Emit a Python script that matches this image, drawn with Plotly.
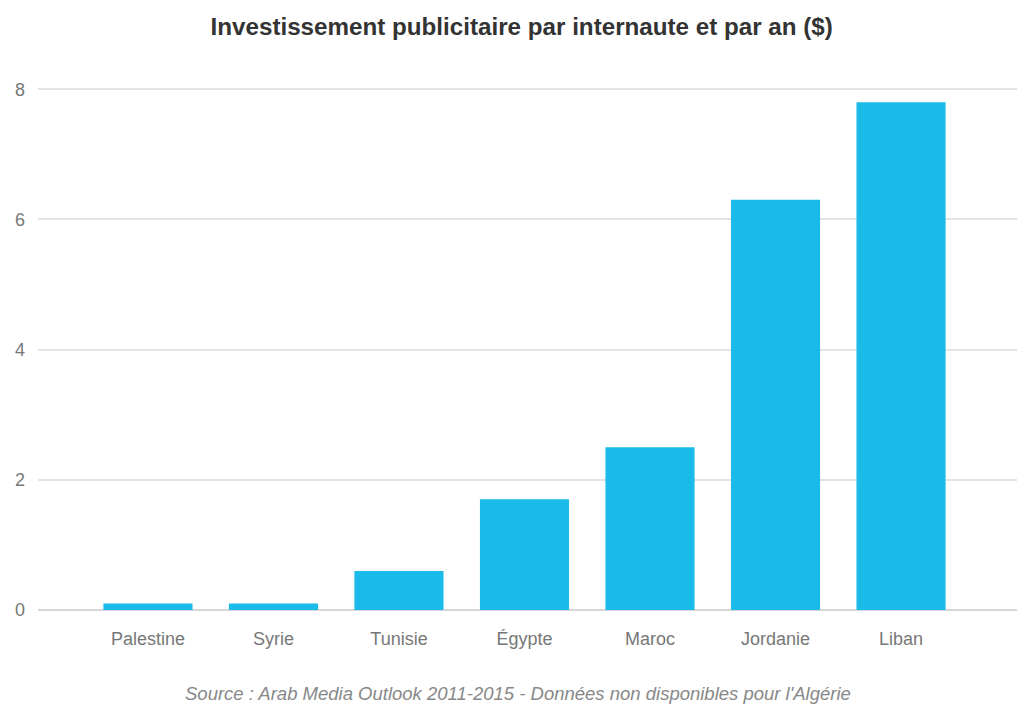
import plotly.graph_objects as go

pays = ["Palestine", "Syrie", "Tunisie", "Égypte", "Maroc", "Jordanie", "Liban"]
valeurs = [0.1, 0.1, 0.6, 1.7, 2.5, 6.3, 7.8]
y_ticks = [0, 2, 4, 6, 8]

FONT = "Liberation Sans, Arial, sans-serif"

fig = go.Figure()
fig.add_trace(go.Bar(
    x=list(range(len(pays))), y=valeurs,
    marker=dict(color="#1BBBE9", line=dict(width=0)),
    width=0.71, hoverinfo="x+y",
))

fig.update_layout(
    width=1017, height=706,
    paper_bgcolor="white", plot_bgcolor="white",
    margin=dict(l=38, r=0, t=70, b=96),
    showlegend=False,
    title=dict(
        text="<b>Investissement publicitaire par internaute et par an ($)</b>",
        x=0.513, xanchor="center", y=0.962, yanchor="middle",
        font=dict(family=FONT, size=24.2, color="#333333"),
    ),
    xaxis=dict(
        range=[-0.876, 6.924],
        tickmode="array", tickvals=list(range(len(pays))), ticktext=pays,
        showgrid=False, zeroline=False, showline=False, ticks="",
        ticklabelstandoff=16,
        tickfont=dict(family=FONT, size=18, color="#777777"),
    ),
    yaxis=dict(
        range=[0, 8.295],
        tickmode="array", tickvals=y_ticks,
        showgrid=True, gridcolor="#e3e3e3", gridwidth=1.5,
        zeroline=True, zerolinecolor="#d6d6d6", zerolinewidth=1.5,
        showline=False, ticks="", ticklabelstandoff=12,
        tickfont=dict(family=FONT, size=18, color="#777777"),
    ),
    annotations=[dict(
        text="<i>Source : Arab Media Outlook 2011-2015 - Données non disponibles pour l'Algérie</i>",
        xref="paper", yref="paper", x=0.49, y=-0.155, xanchor="center", yanchor="middle",
        showarrow=False,
        font=dict(family=FONT, size=18.5, color="#888888"),
    )],
)

fig.write_html(
    "out.html",
    config={"displayModeBar": False},
    post_script="document.body.style.margin='0';document.body.style.overflow='hidden';",
)
